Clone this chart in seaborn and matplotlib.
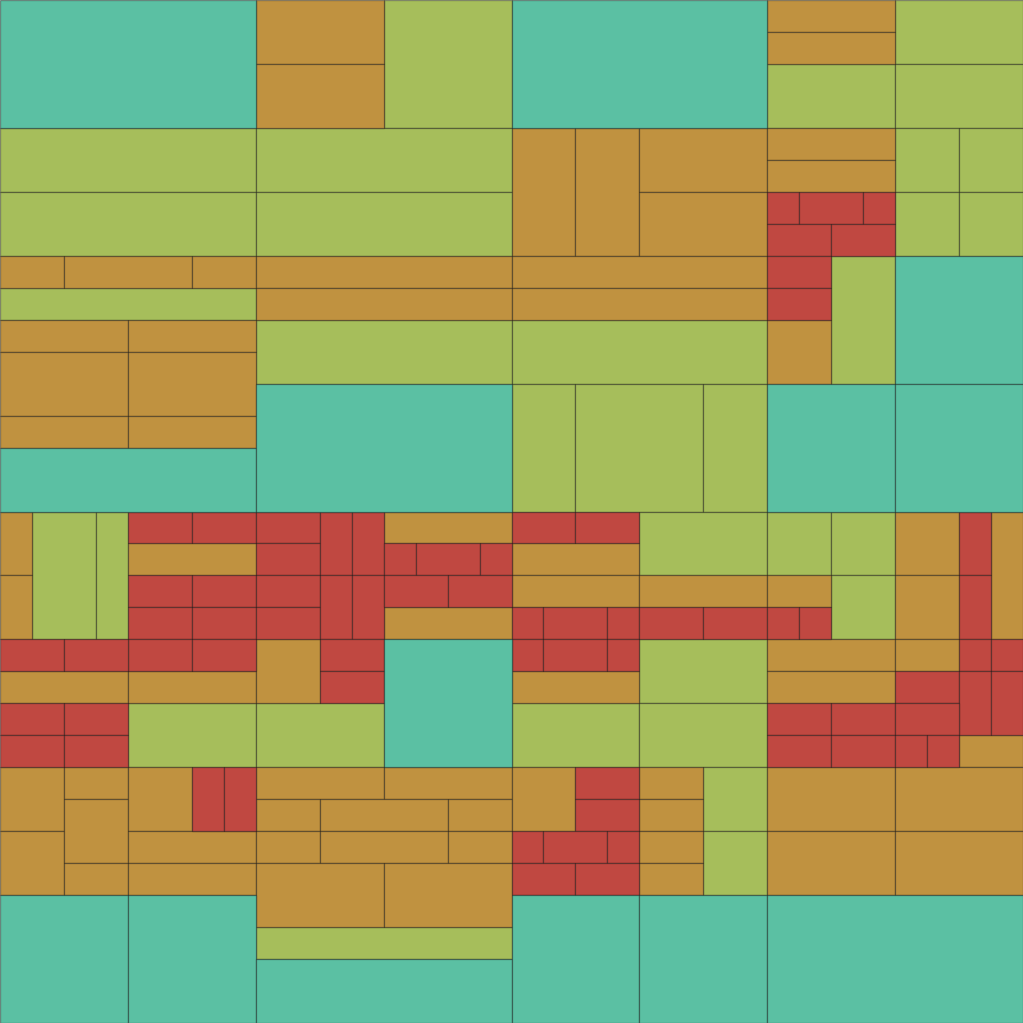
import pandas as pd
import matplotlib
matplotlib.use("Agg")
import matplotlib.pyplot as plt
import seaborn as sns

# Tiles on a 32 x 32 grid: (x, y, width, height), y counted from the top
teal_tiles = [
    (0, 0, 8, 4), (16, 0, 8, 4), (0, 14, 8, 2), (8, 12, 8, 4), (28, 8, 4, 4),
    (24, 12, 4, 4), (28, 12, 4, 4), (12, 20, 4, 4), (0, 28, 4, 4), (4, 28, 4, 4),
    (8, 30, 8, 2), (16, 28, 4, 4), (20, 28, 4, 4), (24, 28, 8, 4),
]

green_tiles = [
    (12, 0, 4, 4), (24, 2, 4, 2), (28, 0, 4, 2), (28, 2, 4, 2),
    (0, 4, 8, 2), (0, 6, 8, 2), (8, 4, 8, 2), (8, 6, 8, 2),
    (28, 4, 2, 2), (30, 4, 2, 2), (28, 6, 2, 2), (30, 6, 2, 2),
    (0, 9, 8, 1), (8, 10, 8, 2), (16, 10, 8, 2), (16, 12, 2, 4), (18, 12, 4, 4),
    (22, 12, 2, 4), (26, 8, 2, 4),
    (1, 16, 2, 4), (3, 16, 1, 4), (4, 22, 4, 2), (8, 22, 4, 2),
    (20, 16, 4, 2), (20, 20, 4, 2), (16, 22, 4, 2), (20, 22, 4, 2),
    (24, 16, 2, 2), (26, 16, 2, 2), (26, 18, 2, 2),
    (8, 29, 8, 1), (22, 24, 2, 2), (22, 26, 2, 2),
]

orange_tiles = [
    (8, 0, 4, 2), (8, 2, 4, 2), (24, 0, 4, 1), (24, 1, 4, 1),
    (16, 4, 2, 4), (18, 4, 2, 4), (20, 4, 4, 2), (20, 6, 4, 2),
    (24, 4, 4, 1), (24, 5, 4, 1),
    (0, 8, 2, 1), (2, 8, 4, 1), (6, 8, 2, 1), (0, 10, 4, 1), (4, 10, 4, 1),
    (0, 11, 4, 2), (4, 11, 4, 2), (0, 13, 4, 1), (4, 13, 4, 1),
    (8, 8, 8, 1), (8, 9, 8, 1), (16, 8, 8, 1), (16, 9, 8, 1), (24, 10, 2, 2),
    (0, 16, 1, 2), (0, 18, 1, 2), (4, 17, 4, 1), (0, 21, 4, 1), (4, 21, 4, 1),
    (8, 20, 2, 2), (12, 16, 4, 1), (12, 19, 4, 1),
    (16, 17, 4, 1), (16, 18, 4, 1), (20, 18, 4, 1), (16, 21, 4, 1),
    (24, 18, 2, 1), (28, 16, 2, 2), (28, 18, 2, 2), (31, 16, 1, 4),
    (24, 20, 4, 1), (28, 20, 2, 1), (24, 21, 4, 1), (30, 23, 2, 1),
    (0, 24, 2, 2), (0, 26, 2, 2), (2, 24, 2, 1), (2, 25, 2, 2), (2, 27, 2, 1),
    (4, 24, 2, 2), (4, 26, 4, 1), (4, 27, 4, 1),
    (8, 24, 4, 1), (12, 24, 4, 1), (8, 25, 2, 1), (10, 25, 4, 1), (14, 25, 2, 1),
    (8, 26, 2, 1), (10, 26, 4, 1), (14, 26, 2, 1), (8, 27, 4, 2), (12, 27, 4, 2),
    (16, 24, 2, 2), (20, 24, 2, 1), (20, 25, 2, 1), (20, 26, 2, 1), (20, 27, 2, 1),
    (24, 24, 4, 2), (28, 24, 4, 2), (24, 26, 4, 2), (28, 26, 4, 2),
]

red_tiles = [
    (24, 6, 1, 1), (25, 6, 2, 1), (27, 6, 1, 1), (24, 7, 2, 1), (26, 7, 2, 1),
    (24, 8, 2, 1), (24, 9, 2, 1),
    (4, 16, 2, 1), (6, 16, 2, 1), (4, 18, 2, 1), (6, 18, 2, 1), (4, 19, 2, 1),
    (6, 19, 2, 1), (4, 20, 2, 1), (6, 20, 2, 1), (0, 20, 2, 1), (2, 20, 2, 1),
    (0, 22, 2, 1), (2, 22, 2, 1), (0, 23, 2, 1), (2, 23, 2, 1),
    (8, 16, 2, 1), (8, 17, 2, 1), (8, 18, 2, 1), (8, 19, 2, 1),
    (10, 16, 1, 2), (10, 18, 1, 2), (11, 16, 1, 2), (11, 18, 1, 2),
    (10, 20, 2, 1), (10, 21, 2, 1),
    (12, 17, 1, 1), (13, 17, 2, 1), (15, 17, 1, 1), (12, 18, 2, 1), (14, 18, 2, 1),
    (16, 16, 2, 1), (18, 16, 2, 1),
    (16, 19, 1, 1), (17, 19, 2, 1), (19, 19, 1, 1), (20, 19, 2, 1), (22, 19, 2, 1),
    (16, 20, 1, 1), (17, 20, 2, 1), (19, 20, 1, 1),
    (24, 19, 1, 1), (25, 19, 1, 1), (30, 16, 1, 2), (30, 18, 1, 2),
    (30, 20, 1, 1), (31, 20, 1, 1), (28, 21, 2, 1), (30, 21, 1, 2), (31, 21, 1, 2),
    (24, 22, 2, 1), (26, 22, 2, 1), (28, 22, 2, 1),
    (24, 23, 2, 1), (26, 23, 2, 1), (28, 23, 1, 1), (29, 23, 1, 1),
    (6, 24, 1, 2), (7, 24, 1, 2),
    (18, 24, 2, 1), (18, 25, 2, 1), (16, 26, 1, 1), (17, 26, 2, 1), (19, 26, 1, 1),
    (16, 27, 2, 1), (18, 27, 2, 1),
]

palette = {
    "teal": "#5bc0a3",
    "green": "#a6be5b",
    "orange": "#c09240",
    "red": "#c04841",
}

# Build one table of all tiles
rows = []
for kind, tiles in [("teal", teal_tiles), ("green", green_tiles),
                    ("orange", orange_tiles), ("red", red_tiles)]:
    for x, y, w, h in tiles:
        rows.append({"kind": kind, "x": x, "y": y, "w": w, "h": h})
df = pd.DataFrame(rows)

sns.set_style("white")

fig = plt.figure(figsize=(10.23, 10.23), dpi=100)
ax = fig.add_axes([0, 0, 1, 1])

for kind, grp in df.groupby("kind"):
    ax.bar(
        grp["x"], grp["h"], width=grp["w"], bottom=grp["y"], align="edge",
        color=palette[kind], edgecolor=(0, 0, 0, 0.4), linewidth=0.9,
    )

ax.set_xlim(0, 32)
ax.set_ylim(32, 0)
ax.axis("off")

fig.savefig("out.png", dpi=100)
